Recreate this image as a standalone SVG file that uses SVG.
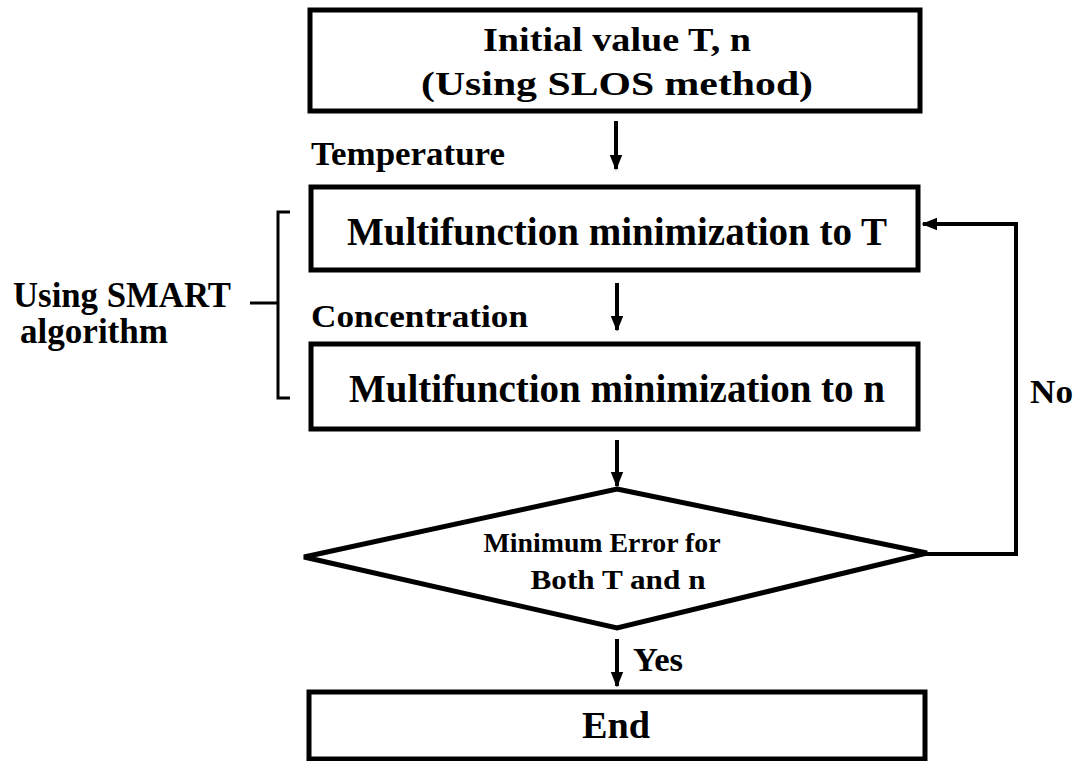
<svg xmlns="http://www.w3.org/2000/svg" width="1075" height="761" viewBox="0 0 1075 761">
<style>
.box{fill:#fff;stroke:#000;stroke-width:5}
.t{font-family:"Liberation Serif","Times New Roman",serif;font-weight:bold;fill:#000}
.c{stroke:#000;stroke-width:4;fill:none}
</style>
<defs>
<marker id="ah" viewBox="0 0 10 10" refX="9" refY="5" markerWidth="4" markerHeight="4" orient="auto" markerUnits="strokeWidth">
<path d="M0,1 L10,5 L0,9 z" fill="#000"/>
</marker>
</defs>
<rect width="1075" height="761" fill="#fff"/>
<g id="connectors">
<line class="c" x1="616" y1="121" x2="616" y2="169" marker-end="url(#ah)"/>
<line class="c" x1="617" y1="283" x2="617" y2="330" marker-end="url(#ah)"/>
<line class="c" x1="617" y1="440" x2="617" y2="486" marker-end="url(#ah)"/>
<line class="c" x1="617" y1="639" x2="617" y2="686" marker-end="url(#ah)"/>
<polyline class="c" points="926,554 1016,554 1016,224 923,224" marker-end="url(#ah)"/>
<path d="M290,212 L278,212 L278,398 L290,398 M250,303 L278,303" stroke="#000" stroke-width="3" fill="none"/>
</g>
<g id="n-init">
<rect class="box" x="310" y="10" width="610" height="101"/>
<text class="t" x="617" y="51" text-anchor="middle" font-size="34" textLength="268" lengthAdjust="spacingAndGlyphs">Initial value T, n</text>
<text class="t" x="617" y="95" text-anchor="middle" font-size="34" textLength="392" lengthAdjust="spacingAndGlyphs">(Using SLOS method)</text>
</g>
<text class="t" x="311" y="165" font-size="33" textLength="194" lengthAdjust="spacingAndGlyphs">Temperature</text>
<g id="n-minT">
<rect class="box" x="311" y="187" width="607" height="83"/>
<text class="t" x="617" y="245" text-anchor="middle" font-size="41" textLength="540" lengthAdjust="spacingAndGlyphs">Multifunction minimization to T</text>
</g>
<text class="t" x="311" y="327" font-size="31" textLength="217" lengthAdjust="spacingAndGlyphs">Concentration</text>
<g id="n-minN">
<rect class="box" x="311" y="344" width="607" height="85"/>
<text class="t" x="617" y="402" text-anchor="middle" font-size="41" textLength="536" lengthAdjust="spacingAndGlyphs">Multifunction minimization to n</text>
</g>
<g id="n-smart">
<text class="t" x="13" y="307" font-size="35" textLength="218" lengthAdjust="spacingAndGlyphs">Using SMART</text>
<text class="t" x="20" y="343" font-size="35" textLength="148" lengthAdjust="spacingAndGlyphs">algorithm</text>
</g>
<g id="n-decision">
<polygon class="box" points="617,489 927,553 617,628 304,557"/>
<text class="t" x="602" y="552" text-anchor="middle" font-size="28" textLength="237" lengthAdjust="spacingAndGlyphs">Minimum Error for</text>
<text class="t" x="618" y="589" text-anchor="middle" font-size="28" textLength="175" lengthAdjust="spacingAndGlyphs">Both T and n</text>
</g>
<text class="t" x="633" y="671" font-size="34" textLength="50" lengthAdjust="spacingAndGlyphs">Yes</text>
<text class="t" x="1030" y="403" font-size="34" textLength="43" lengthAdjust="spacingAndGlyphs">No</text>
<g id="n-end">
<rect class="box" x="309" y="692" width="616" height="67"/>
<text class="t" x="616" y="738" text-anchor="middle" font-size="38" textLength="68" lengthAdjust="spacingAndGlyphs">End</text>
</g>
</svg>
